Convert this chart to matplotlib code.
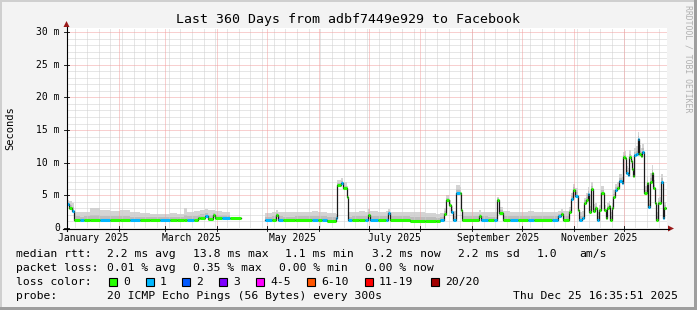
import datetime as dt
import numpy as np
import matplotlib
matplotlib.use("Agg")
import matplotlib.pyplot as plt
from matplotlib.patches import Rectangle, Polygon

# segments of the smokeping graph: start day (0 = Jan 1 2025), median rtt (ms),
# top of the smoke (ms), loss class (index into loss_colors)
seg_day = [0, 1.2, 3.0, 4.2, 8, 10, 14, 20, 26, 32, 38, 44, 50, 56, 62, 66, 70, 72, 76,
           78.6, 79.8, 82.8, 84.6, 87.6, 88.8, 93, 97.8, 104.4,
           118.8, 123, 125.4, 126.6, 129.6, 136.8, 147, 150.6, 153, 156, 161.4,
           162, 164.4, 165.6, 168, 168.6, 171, 175, 178.8, 180.6, 181.8, 186.6,
           191.4, 192.6, 193.8, 205.8, 214.8, 221.4, 223.8, 226.2, 227.4, 229.2,
           230.4, 231.6, 233.4, 235.8, 236.4, 237, 247.2, 248.4, 252.6, 256.2,
           258, 259.2, 261.6, 265.8, 270.6, 276.6, 280.2, 291, 294.6, 296.4,
           297.6, 301.2, 302.4, 303.4, 304.8, 306.6, 307.2, 309, 310.2, 311.4,
           312.6, 313.2, 314.4, 315.6, 316.8, 318, 319.2, 320.4, 322.2, 323.1,
           323.7, 325.2, 325.8, 327, 327.6, 328.8, 330, 331.2, 332.7, 333.6,
           334.8, 335.4, 336.3, 337.2, 338.1, 339, 339.6, 340.4, 341.4, 342.3,
           343.2, 344.4, 345.2, 346.2, 347.7, 348.4, 349.8, 350.8, 351.8, 352.5,
           353.4, 354.4, 355.4, 356.4, 357.3, 357.8, 358.4]
seg_med = [3.7, 3.0, 2.6, 1.2, 1.2, 1.25, 1.2, 1.2, 1.2, 1.15, 1.15, 1.2, 1.15, 1.2, 1.2, 1.2, 1.25, 1.2, 1.3,
           1.5, 1.6, 1.8, 1.4, 2.0, 1.5, 1.5, 1.5, np.nan,
           1.3, 1.3, 2.0, 1.2, 1.2, 1.3, 1.3, 1.3, 1.2, 1.1, 1.5,
           6.6, 6.9, 6.1, 4.8, 1.2, 1.2, 1.2, 1.2, 2.0, 1.2, 1.2,
           1.2, 2.3, 1.2, 1.1, 1.1, 1.0, 1.2, 2.2, 4.3, 3.5,
           2.5, 1.3, 5.4, 5.3, 2.8, 1.3, 1.8, 1.2, 1.2, 1.2,
           4.3, 2.3, 1.3, 1.3, 1.2, 1.2, 1.2, 1.2, 1.8, 2.1,
           1.3, 2.5, 4.4, 5.8, 4.9, 2.8, 1.3, 1.6, 3.9, 4.3,
           5.2, 2.5, 5.9, 2.6, 3.0, 1.3, 2.8, 5.4, 2.8, 1.5,
           3.0, 3.3, 1.3, 3.0, 4.8, 5.8, 6.1, 7.2, 6.9, 10.8,
           10.7, 8.4, 8.1, 10.9, 10.2, 9.0, 7.9, 11.2, 11.4, 13.7,
           11.4, 11.0, 11.7, 5.3, 6.9, 3.2, 7.1, 8.4, 6.1, 3.8,
           1.3, 3.8, 3.9, 7.1, 6.8, 1.5, 3.0]
seg_top = [4.3, 4.1, 3.8, 2.5, 2.4, 2.5, 3.0, 2.7, 2.6, 2.8, 2.5, 2.3, 2.2, 2.2, 2.3, 2.2, 3.0, 2.5, 2.6,
           2.6, 2.7, 2.9, 2.7, 2.8, 2.6, 2.5, 2.5, np.nan,
           2.3, 2.5, 2.8, 2.5, 2.4, 2.5, 2.6, 2.5, 2.5, 2.3, 2.2,
           7.4, 7.6, 7.0, 6.5, 2.4, 2.5, 2.6, 2.5, 2.9, 2.6, 2.5,
           2.6, 2.9, 2.5, 2.4, 2.3, 2.2, 2.3, 3.0, 5.0, 4.3,
           3.4, 2.6, 6.6, 6.3, 3.6, 2.5, 2.7, 2.5, 2.4, 2.4,
           4.8, 3.2, 2.6, 2.5, 2.5, 2.6, 2.5, 2.5, 2.6, 2.9,
           2.6, 3.2, 5.4, 6.8, 6.2, 4.0, 2.4, 2.6, 4.6, 5.3,
           6.3, 3.4, 7.0, 3.6, 3.8, 2.4, 3.5, 6.4, 3.5, 2.6,
           3.9, 4.2, 2.4, 3.8, 5.8, 6.8, 7.0, 8.2, 7.8, 11.7,
           11.8, 9.5, 9.2, 12.0, 11.2, 10.0, 9.0, 12.3, 12.5, 14.7,
           12.7, 12.3, 12.8, 6.5, 8.0, 4.3, 8.4, 9.6, 7.3, 4.8,
           2.5, 4.6, 4.8, 8.2, 7.8, 2.6, 4.0]
seg_loss = [1, 0, 1, 0, 1, 0, 0, 1, 0, 0, 1, 0, 0, 1, 0, 0, 0, 1, 0,
            0, 0, 1, 0, 0, 0, 1, 0, 0,
            1, 0, 0, 1, 0, 0, 1, 0, 1, 0, 1,
            0, 1, 0, 0, 1, 0, 0, 1, 0, 1, 0,
            1, 1, 0, 0, 0, 0, 1, 0, 0, 0,
            1, 1, 1, 0, 0, 0, 0, 1, 0, 1,
            0, 0, 0, 1, 0, 1, 0, 1, 1, 0,
            0, 0, 1, 0, 1, 0, 1, 1, 0, 0,
            1, 0, 0, 0, 0, 1, 0, 0, 0, 0,
            0, 0, 0, 0, 0, 1, 0, 1, 1, 0,
            0, 1, 1, 0, 0, 0, 0, 1, 1, 1,
            0, 0, 1, 0, 0, 1, 0, 0, 0, 0,
            0, 0, 0, 1, 0, 1, 0]
last_day = 359.4

loss_labels = ["0", "1", "2", "3", "4-5", "6-10", "11-19", "20/20"]
loss_colors = ["#26ff00", "#00b8ff", "#0059ff", "#7e00ff", "#ff00ff", "#ff5500", "#ff0000", "#a10000"]

title = "Last 360 Days from adbf7449e929 to Facebook"
month_labels = ["January 2025", "March 2025", "May 2025", "July 2025", "September 2025", "November 2025"]
y_major = [0, 5, 10, 15, 20, 25, 30]
y_labels = ["0", "5 m", "10 m", "15 m", "20 m", "25 m", "30 m"]

W, H = 697, 310
PX0, PX1, PY0, PY1 = 67, 667, 228, 28
YMAX = (PY0 - PY1) / 6.53
MONO = "DejaVu Sans Mono"

t0 = dt.datetime(2025, 1, 1)
month_start = [(dt.datetime(2025, m, 1) - t0).days for m in range(1, 13)]
mondays = list(range(5, 360, 7))

fig = plt.figure(figsize=(W / 100, H / 100), dpi=100)
fig.patch.set_facecolor("#f3f3f3")

ax = fig.add_axes([PX0 / W, 1 - PY0 / H, (PX1 - PX0) / W, (PY0 - PY1) / H], zorder=1)
ax.set_facecolor("white")
ax.set_xlim(0, 360)
ax.set_ylim(0, YMAX)
for s in ax.spines.values():
    s.set_visible(False)
ax.set_xticks([])
ax.set_yticks([])

dots = (0, (1, 1))
for d in mondays:
    ax.axvline(d, color="#cfcfcf", lw=0.72, ls=dots, zorder=2)
for v in range(1, 31):
    if v % 5:
        ax.axhline(v, color="#cfcfcf", lw=0.72, ls=dots, zorder=2)
for d in month_start:
    ax.axvline(d, color="#f2a0a0", lw=0.72, ls=dots, zorder=2.1)
for v in y_major[1:]:
    ax.axhline(v, color="#f2a0a0", lw=0.72, ls=dots, zorder=2.1)

# smoke + median
edges = np.array(seg_day + [last_day])
med = np.array(seg_med, float)
top = np.array(seg_top, float)
lo = med - 0.1
inner = med + 0.45 * (top - med)
ax.fill_between(edges, np.r_[lo, lo[-1]], np.r_[top, top[-1]], step="post",
                color="#d4d4d4", lw=0, zorder=1.5)
ax.fill_between(edges, np.r_[lo, lo[-1]], np.r_[inner, inner[-1]], step="post",
                color="#bdbdbd", lw=0, zorder=1.6)
ax.step(edges, np.r_[med, med[-1]], where="post", color="#1a1a1a", lw=0.9, zorder=3)
for i in range(len(med)):
    if not np.isnan(med[i]):
        ax.hlines(med[i], edges[i], edges[i + 1], color=loss_colors[seg_loss[i]], lw=2.2, zorder=4)

# overlay in pixel coordinates: frame, axes, text
ov = fig.add_axes([0, 0, 1, 1], zorder=3)
ov.set_xlim(0, W)
ov.set_ylim(H, 0)
ov.set_axis_off()
ov.patch.set_alpha(0)

ov.add_patch(Rectangle((0, 0), W, 2, color="#cfcfcf", lw=0))
ov.add_patch(Rectangle((0, 0), 2, H, color="#cfcfcf", lw=0))
ov.add_patch(Rectangle((0, H - 3), W, 3, color="#9e9e9e", lw=0))
ov.add_patch(Rectangle((W - 3, 0), 3, H, color="#9e9e9e", lw=0))

px = lambda d: PX0 + d * (PX1 - PX0) / 360
py = lambda v: PY0 - v * (PY0 - PY1) / YMAX

ov.plot([63, 669], [PY0 + 0.5, PY0 + 0.5], color="black", lw=0.8)
ov.plot([PX0 - 0.5, PX0 - 0.5], [231, 27], color="black", lw=0.8)
ov.add_patch(Polygon([(668, 225.5), (668, 231.5), (674, 228.5)], color="#9a1a1a", lw=0))
ov.add_patch(Polygon([(63.5, 27), (69.5, 27), (66.5, 21)], color="#9a1a1a", lw=0))
for v in y_major:
    ov.plot([64, 69], [py(v), py(v)], color="black", lw=0.6)
for d in month_start:
    ov.plot([px(d), px(d)], [226, 231], color="black", lw=0.6)

ov.text(347.5, 19, title, ha="center", va="center", fontsize=9.5, family=MONO)
for v, lab in zip(y_major, y_labels):
    ov.text(60, py(v), lab, ha="right", va="center", fontsize=7, family=MONO)
for m, lab in zip(month_start[::2], month_labels):
    ov.text(px(m + 15.5), 238, lab, ha="center", va="center", fontsize=7, family=MONO)
ov.text(10.5, 128, "Seconds", rotation=90, ha="center", va="center", fontsize=7.5, family=MONO)
ov.text(688, 5, "RRDTOOL / TOBI OETIKER", rotation=270, ha="center", va="top",
        fontsize=5.9, color="#b0b0b0", family=MONO)

legend_rows = [
    (254, [(16, "median rtt:"), (107, "2.2 ms avg"), (193, "13.8 ms max"), (285, "1.1 ms min"),
           (372, "3.2 ms now"), (458, "2.2 ms sd"), (537, "1.0"), (579, "am/s")]),
    (268, [(16, "packet loss:"), (107, "0.01 % avg"), (193, "0.35 % max"), (279, "0.00 % min"),
           (365, "0.00 % now")]),
    (282, [(16, "loss color:")]),
    (296, [(16, "probe:"), (107, "20 ICMP Echo Pings (56 Bytes) every 300s"),
           (513, "Thu Dec 25 16:35:51 2025")]),
]
for y, items in legend_rows:
    for x, s in items:
        ov.text(x, y, s, ha="left", va="center", fontsize=8.2, family=MONO)

box_x = [109, 146, 182, 219, 256, 307, 365, 431]
for bx, lab, col in zip(box_x, loss_labels, loss_colors):
    ov.add_patch(Rectangle((bx, 278), 8, 8, facecolor=col, edgecolor="black", lw=0.8))
    ov.text(bx + 14, 282, lab, ha="left", va="center", fontsize=8.2, family=MONO)

fig.savefig("out.png", dpi=100, facecolor=fig.get_facecolor())
